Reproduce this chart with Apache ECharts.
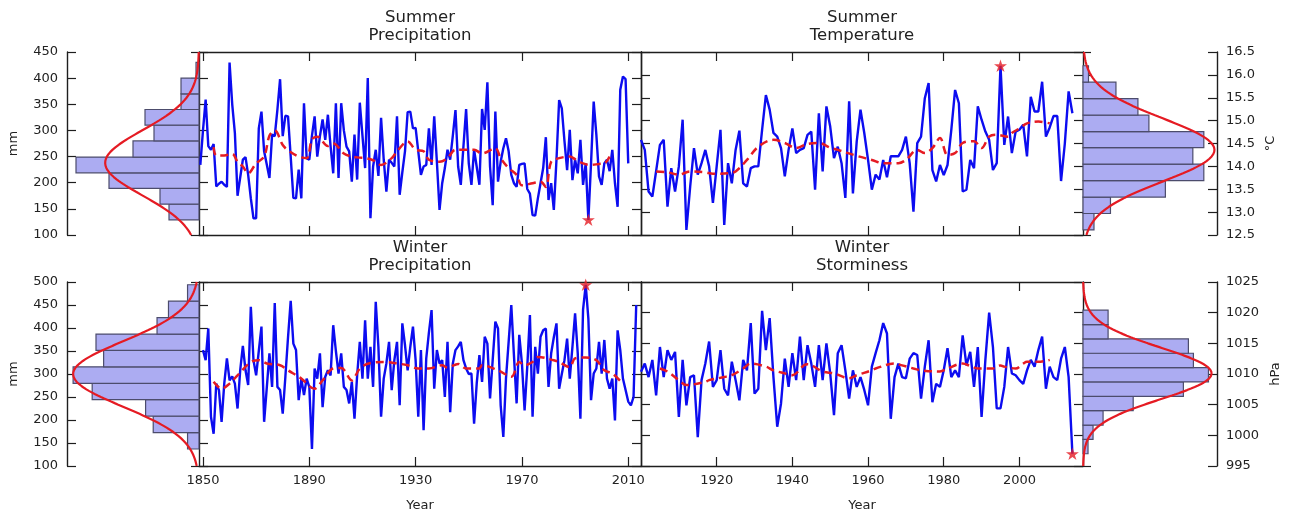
<!DOCTYPE html>
<html>
<head>
<meta charset="utf-8">
<script src="https://cdn.jsdelivr.net/npm/echarts@6/dist/echarts.min.js"></script>
<style>
  html, body { margin: 0; padding: 0; background: #ffffff; }
  #chart { width: 1291px; height: 513px; }
</style>
</head>
<body>
<div id="chart"></div>
<script>
// ---------- yearly series ----------
const spStart = 1849;   // summer precipitation (mm)
const spValues = [
  234,300,359,270,263,274,193,198,202,196,
  192,430,350,295,175,210,244,249,215,170,
  132,132,304,336,260,235,209,292,289,340,
  398,289,328,327,250,171,170,225,170,352,
  247,244,290,327,250,289,321,282,330,270,
  218,352,209,352,300,269,260,202,292,206,
  353,290,228,400,132,231,263,213,324,244,
  183,244,238,231,327,177,220,260,335,336,
  304,305,260,215,231,234,304,234,327,240,
  148,199,228,263,244,290,339,231,196,270,
  341,237,196,263,230,196,341,301,392,231,
  157,336,202,240,266,285,260,215,199,192,
  234,236,237,188,179,138,137,170,199,228,
  287,167,199,148,244,358,342,280,224,301,
  205,244,218,282,196,237,129,237,355,292,
  212,196,237,244,222,263,199,154,378,403,
  398,237
];

const stStart = 1900;   // summer temperature (°C)
const stValues = [
  14.58,14.36,13.45,13.34,13.9,14.47,14.58,13.12,13.96,13.45,
  14.0,15.02,12.61,13.56,14.40,13.82,14.07,14.36,14.0,13.2,
  14.0,14.8,12.72,14.07,13.63,14.36,14.78,13.63,13.56,13.96,
  14.0,14.0,14.8,15.56,15.24,14.73,14.65,14.4,13.78,14.36,
  14.83,14.29,14.36,14.40,14.69,14.76,13.49,15.16,13.89,15.31,
  14.87,14.18,14.43,14.07,13.31,15.42,13.41,14.54,15.24,14.73,
  14.14,13.49,13.82,13.71,14.14,13.76,14.22,14.22,14.22,14.36,
  14.65,14.07,13.01,14.51,14.65,15.49,15.82,13.92,13.67,14.03,
  13.81,14.03,14.8,15.67,15.38,13.45,13.49,14.14,13.96,15.31,
  15.02,14.76,14.58,13.92,14.07,16.2,14.47,15.09,14.29,14.76,
  14.8,14.91,14.22,15.52,15.2,15.2,15.85,14.65,14.85,15.1,
  15.1,13.68,14.5,15.64,15.16
];

const wpStart = 1850;   // winter precipitation (mm)
const wpValues = [
  352,330,399,207,170,279,265,196,279,334,
  286,295,279,225,308,361,308,276,446,330,
  297,350,403,196,270,345,272,454,272,265,
  214,294,380,459,366,352,243,290,254,290,
  272,137,312,290,345,228,294,308,297,406,
  350,301,345,272,265,236,283,203,297,370,
  290,417,290,359,272,457,359,207,290,323,
  370,265,330,370,232,410,363,308,359,403,
  330,207,352,178,334,390,439,268,352,323,
  330,250,370,217,323,352,360,370,330,312,
  300,301,192,280,341,283,381,366,247,330,
  414,399,232,163,290,370,450,340,236,385,
  323,221,315,428,207,359,301,381,395,399,
  272,345,380,410,268,300,330,377,290,359,
  432,345,203,440,494,420,243,301,312,370,
  301,374,290,268,290,199,395,352,290,265,
  240,232,250,450
];

const wsStart = 1900;   // winter storminess (hPa)
const wsValues = [
  1010.35,1011.7,1009.5,1012.3,1006.5,1014.4,1009.5,1013.9,1012.3,1013.6,
  1003.0,1012.3,1004.9,1009.5,1009.8,999.7,1009.0,1011.7,1015.3,1007.9,
  1009.0,1013.9,1007.6,1006.5,1012.0,1009.0,1005.7,1012.3,1010.6,1018.3,
  1006.8,1007.6,1020.3,1013.9,1019.1,1009.5,1001.4,1005.2,1012.5,1007.9,
  1013.4,1009.0,1016.1,1009.0,1014.7,1011.7,1007.9,1014.7,1009.0,1015.0,
  1010.1,1003.3,1013.4,1014.7,1010.6,1006.0,1010.6,1007.9,1009.5,1007.4,
  1004.9,1011.2,1013.4,1015.5,1018.3,1016.6,1002.7,1009.5,1011.7,1009.5,
  1009.3,1012.5,1013.4,1013.1,1006.0,1011.2,1015.5,1005.4,1008.4,1007.9,
  1010.6,1014.2,1009.5,1010.6,1009.5,1016.3,1011.4,1013.6,1007.9,1014.4,
  1003.0,1012.3,1020.0,1014.4,1004.4,1004.4,1007.9,1014.4,1010.1,1009.8,
  1009.0,1008.4,1010.6,1012.3,1011.2,1013.9,1016.1,1007.6,1011.2,1009.5,
  1009.0,1012.5,1014.4,1009.5,997.0
];

// ---------- smoothed trends (dashed) ----------
const spTrendYears  = [1854,1855,1858,1861,1863,1865,1867,1870,1873,1875,1877,1880,1882,1886,1889,1891,1893,1897,1899,1903,1906,1909,1911,1914,1917,1921,1923,1927,1930,1933,1935,1939,1942,1945,1948,1952,1955,1960,1962,1965,1968,1970,1974,1977,1979,1981,1984,1988,1990,1993,1996,1999,2001,2003];
const spTrendValues = [268,252,252,255,240,231,218,237,250,290,300,272,262,250,247,283,288,270,275,256,250,248,247,243,234,247,260,279,263,260,244,240,247,263,263,263,256,266,247,228,215,195,199,202,192,240,247,250,245,237,234,236,237,250];

const stTrendYears  = [1904,1907,1910,1913,1917,1919,1923,1925,1928,1931,1935,1938,1941,1944,1947,1950,1952,1957,1961,1964,1968,1970,1973,1975,1977,1979,1981,1983,1985,1988,1990,1992,1994,1997,1998,2000,2002,2005,2008];
const stTrendValues = [13.89,13.87,13.82,13.89,13.87,13.84,13.85,13.89,14.14,14.43,14.58,14.51,14.40,14.49,14.51,14.41,14.36,14.23,14.14,14.07,14.07,14.14,14.36,14.29,14.40,14.62,14.25,14.29,14.51,14.55,14.40,14.65,14.69,14.65,14.73,14.83,14.94,14.98,14.94];

const wpTrendYears  = [1854,1857,1860,1863,1868,1871,1874,1879,1882,1887,1892,1895,1899,1902,1906,1909,1913,1919,1923,1927,1931,1935,1940,1942,1946,1949,1954,1955,1961,1966,1969,1971,1974,1976,1982,1984,1988,1990,1994,1998,2001,2004,2008];
const wpTrendValues = [283,268,279,297,326,330,323,319,308,290,268,286,312,313,286,312,324,326,323,319,312,312,319,314,322,312,312,319,308,294,326,319,326,337,330,326,315,334,336,330,308,301,279];

const wsTrendYears  = [1905,1907,1910,1912,1917,1918,1922,1924,1927,1929,1933,1935,1938,1940,1943,1944,1948,1951,1955,1957,1961,1962,1967,1969,1972,1974,1979,1981,1985,1987,1989,1993,1995,1996,1999,2001,2002,2005,2008];
const wsTrendValues = [1010.9,1010.4,1009.0,1008.2,1008.7,1009.0,1009.5,1009.8,1010.9,1011.7,1011.2,1010.6,1010.1,1009.8,1011.4,1011.6,1010.4,1010.1,1009.3,1009.8,1010.6,1010.9,1011.7,1011.4,1010.9,1010.6,1010.4,1010.9,1011.7,1011.3,1010.9,1010.9,1011.4,1011.2,1010.9,1011.7,1012.0,1012.0,1012.3];

// ---------- histograms (bins bottom to top) and normal fits [mean, sd] ----------
const spBinEdges = [129,159,189,219,249,280,310,340,370,400,430];
const spCounts   = [10,13,30,41,22,15,18,6,6,1];
const spFit      = [238,62];

const stBinEdges = [12.61,12.97,13.33,13.69,14.05,14.41,14.76,15.12,15.48,15.84,16.2];
const stCounts   = [2,5,15,22,20,22,12,10,6,1];
const stFit      = [14.36,0.69];

const wpBinEdges = [137,172.7,208.4,244.1,279.8,315.5,351.2,386.9,422.6,458.3,494];
const wpCounts   = [3,12,14,28,33,25,27,11,8,3];
const wpFit      = [300,70.8];

const wsBinEdges = [997,999.34,1001.68,1004.02,1006.36,1008.7,1011.04,1013.38,1015.72,1018.06,1020.4];
const wsCounts   = [1,2,4,10,20,25,22,21,5,5];
const wsFit      = [1010.1,4.19];

// ---------- axis ticks ----------
const leftYearTicks  = [1850,1890,1930,1970,2010];
const rightYearTicks = [1920,1940,1960,1980,2000];

// ---------- styling ----------
const FONT = 'DejaVu Sans';
const TEXT = '#222222';
const FRAME = '#1e1e1e';
const BLUE = '#0c0cf0';
const RED = '#e51b23';
const HIST_FILL = '#acacf2';
const HIST_EDGE = '#4c4c6c';
const STAR = 'path://M50,0 L61.8,36.2 L100,36.2 L69.1,58.8 L80.9,95.1 L50,72.6 L19.1,95.1 L30.9,58.8 L0,36.2 L38.2,36.2 Z';

const panels = [
  { title: 'Summer\nPrecipitation', unit: 'mm',  start: spStart, values: spValues, tYears: spTrendYears, tValues: spTrendValues,
    edges: spBinEdges, counts: spCounts, fit: spFit, extreme: 'min', yMin: 100, yMax: 450, yStep: 50, digits: 0, side: 'left',  row: 0, histMax: 44 },
  { title: 'Summer\nTemperature',   unit: '°C', start: stStart, values: stValues, tYears: stTrendYears, tValues: stTrendValues,
    edges: stBinEdges, counts: stCounts, fit: stFit, extreme: 'max', yMin: 12.5, yMax: 16.5, yStep: 0.5, digits: 1, side: 'right', row: 0, histMax: 24.4 },
  { title: 'Winter\nPrecipitation', unit: 'mm',  start: wpStart, values: wpValues, tYears: wpTrendYears, tValues: wpTrendValues,
    edges: wpBinEdges, counts: wpCounts, fit: wpFit, extreme: 'max', yMin: 100, yMax: 500, yStep: 50, digits: 0, side: 'left',  row: 1, histMax: 34.6 },
  { title: 'Winter\nStorminess',    unit: 'hPa', start: wsStart, values: wsValues, tYears: wsTrendYears, tValues: wsTrendValues,
    edges: wsBinEdges, counts: wsCounts, fit: wsFit, extreme: 'min', yMin: 995, yMax: 1025, yStep: 5, digits: 0, side: 'right', row: 1, histMax: 26.7 }
];

const rowTop = [52, 282];
const rowHeight = [183, 184];

const grids = [], xAxes = [], yAxes = [], series = [], graphics = [];
const lineStyle = { color: FRAME, width: 1.4 };
const tickStyle = { color: FRAME, width: 1.2 };
const labelStyle = { fontFamily: FONT, fontSize: 13, color: TEXT };

function addGrid(left, top, width, height) {
  grids.push({ left, top, width, height, containLabel: false, outerBoundsMode: 'none', show: false });
  return grids.length - 1;
}

panels.forEach((p) => {
  const top = rowTop[p.row], height = rowHeight[p.row];
  const mainLeft = p.side === 'left' ? 199 : 641;
  const histLeft = p.side === 'left' ? 67 : 1083;
  const histWidth = p.side === 'left' ? 132 : 134;
  const xRange = p.side === 'left' ? [1848.5, 2014.8] : [1900, 2016.8];
  const ticks = p.side === 'left' ? leftYearTicks : rightYearTicks;
  const bottomRow = p.row === 1;

  // ----- main time-series panel -----
  const g = addGrid(mainLeft, top, 442, height);
  const xMain = xAxes.length;
  ['bottom', 'top'].forEach((pos) => {
    xAxes.push({
      gridIndex: g, type: 'value', min: xRange[0], max: xRange[1], position: pos,
      axisLine: { show: true, onZero: false, lineStyle },
      axisTick: { show: true, inside: true, length: 9, customValues: ticks, lineStyle: tickStyle },
      axisLabel: { show: pos === 'bottom' && bottomRow, customValues: ticks, margin: 8,
                   formatter: (v) => String(Math.round(v)), ...labelStyle },
      splitLine: { show: false }
    });
  });
  const yMain = yAxes.length;
  ['left', 'right'].forEach((pos) => {
    yAxes.push({
      gridIndex: g, type: 'value', min: p.yMin, max: p.yMax, interval: p.yStep, position: pos,
      axisLine: { show: true, onZero: false, lineStyle },
      axisTick: { show: true, inside: true, length: 9, lineStyle: tickStyle },
      axisLabel: { show: false }, splitLine: { show: false }
    });
  });

  const seriesData = p.values.map((v, i) => [p.start + i, v]);
  series.push({
    type: 'line', xAxisIndex: xMain, yAxisIndex: yMain, data: seriesData,
    showSymbol: false, symbol: 'none', z: 2,
    lineStyle: { color: BLUE, width: 2.4 }
  });
  series.push({
    type: 'line', xAxisIndex: xMain, yAxisIndex: yMain,
    data: p.tYears.map((y, i) => [y, p.tValues[i]]),
    showSymbol: false, symbol: 'none', smooth: 0.35, z: 3,
    lineStyle: { color: RED, width: 2.5, type: [8, 5] }
  });
  // star on the record value of the series
  let best = seriesData[0];
  seriesData.forEach((d) => {
    if (p.extreme === 'min' ? d[1] < best[1] : d[1] > best[1]) best = d;
  });
  series.push({
    type: 'scatter', xAxisIndex: xMain, yAxisIndex: yMain, data: [best],
    symbol: STAR, symbolSize: 13, symbolKeepAspect: true, clip: false, z: 5,
    itemStyle: { color: RED }
  });

  // ----- side histogram panel -----
  const h = addGrid(histLeft, top, histWidth, height);
  const xHist = xAxes.length;
  xAxes.push({ gridIndex: h, type: 'value', min: 0, max: p.histMax, inverse: p.side === 'left', show: false });
  const yHist = yAxes.length;
  yAxes.push({
    gridIndex: h, type: 'value', min: p.yMin, max: p.yMax, interval: p.yStep, position: p.side,
    axisLine: { show: true, onZero: false, lineStyle },
    axisTick: { show: true, inside: true, length: 9, lineStyle: tickStyle },
    axisLabel: { show: true, margin: 9, formatter: (v) => v.toFixed(p.digits), ...labelStyle },
    splitLine: { show: false }
  });
  yAxes.push({
    gridIndex: h, type: 'value', min: p.yMin, max: p.yMax, interval: p.yStep,
    position: p.side === 'left' ? 'right' : 'left',
    axisLine: { show: false, onZero: false },
    axisTick: { show: true, inside: true, length: 8, lineStyle: tickStyle },
    axisLabel: { show: false }, splitLine: { show: false }
  });

  series.push({
    type: 'custom', xAxisIndex: xHist, yAxisIndex: yHist, z: 2,
    data: p.counts.map((c, i) => [p.edges[i], p.edges[i + 1], c]),
    encode: { x: 2, y: [0, 1] },
    renderItem: (params, api) => {
      const a = api.coord([0, api.value(0)]);
      const b = api.coord([api.value(2), api.value(1)]);
      return {
        type: 'rect',
        shape: { x: Math.min(a[0], b[0]), y: Math.min(a[1], b[1]), width: Math.abs(a[0] - b[0]), height: Math.abs(a[1] - b[1]) },
        style: { fill: HIST_FILL, stroke: HIST_EDGE, lineWidth: 1.2 }
      };
    }
  });

  // fitted normal curve scaled to the histogram counts
  const n = p.counts.reduce((s, c) => s + c, 0);
  const bw = p.edges[1] - p.edges[0];
  const mean = p.fit[0], sd = p.fit[1];
  const curve = [];
  for (let k = 0; k <= 240; k++) {
    const v = p.yMin + (p.yMax - p.yMin) * k / 240;
    const z = (v - mean) / sd;
    curve.push([n * bw / (sd * Math.sqrt(2 * Math.PI)) * Math.exp(-0.5 * z * z), v]);
  }
  series.push({
    type: 'line', xAxisIndex: xHist, yAxisIndex: yHist, data: curve,
    showSymbol: false, symbol: 'none', z: 3,
    lineStyle: { color: RED, width: 2.2 }
  });

  // ----- texts -----
  graphics.push({
    type: 'text', x: mainLeft + 221, y: top - 25.5,
    style: { text: p.title, fontFamily: FONT, fontSize: 16.5, lineHeight: 18, fill: TEXT, textAlign: 'center', textVerticalAlign: 'middle' }
  });
  graphics.push({
    type: 'text', x: p.side === 'left' ? 14 : (p.unit === 'hPa' ? 1276 : 1271), y: top + height / 2,
    rotation: Math.PI / 2,
    style: { text: p.unit, fontFamily: FONT, fontSize: 13, fill: TEXT, textAlign: 'center', textVerticalAlign: 'middle' }
  });
  if (bottomRow) {
    graphics.push({
      type: 'text', x: mainLeft + 221, y: 506,
      style: { text: 'Year', fontFamily: FONT, fontSize: 13, fill: TEXT, textAlign: 'center', textVerticalAlign: 'middle' }
    });
  }
});

const chart = echarts.init(document.getElementById('chart'), null, { renderer: 'canvas' });
chart.setOption({
  animation: false,
  backgroundColor: '#ffffff',
  grid: grids,
  xAxis: xAxes,
  yAxis: yAxes,
  series: series,
  graphic: graphics
});
</script>
</body>
</html>
